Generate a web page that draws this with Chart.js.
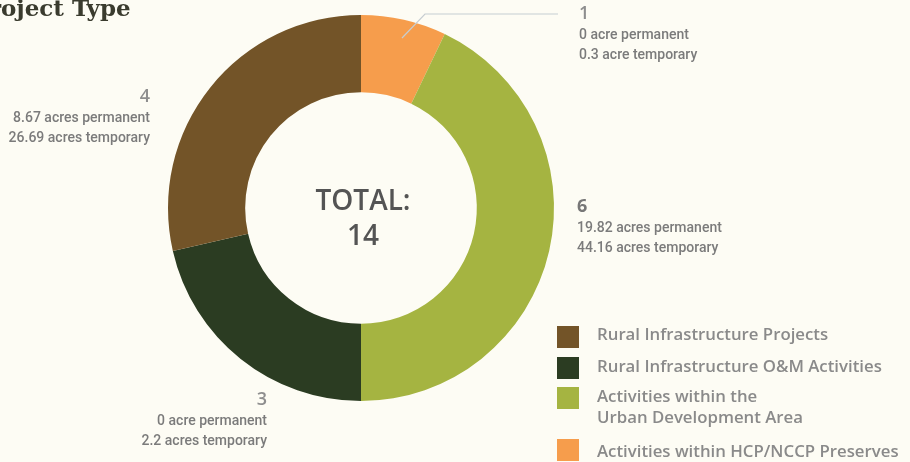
<!DOCTYPE html>
<html>
<head>
<meta charset="utf-8">
<script src="https://cdn.jsdelivr.net/npm/chart.js@4.4.1/dist/chart.umd.min.js"></script>
<style>
  html, body { margin: 0; padding: 0; background: #fdfcf4; overflow: hidden; }
  #wrap { position: relative; width: 910px; height: 462px; }
</style>
</head>
<body>
<div id="wrap"><canvas id="c" width="910" height="462"></canvas></div>
<script>
// Project counts by type, clockwise from 12 o'clock
const categories = [
  'Activities within HCP/NCCP Preserves',
  ['Activities within the', 'Urban Development Area'],
  'Rural Infrastructure O&M Activities',
  'Rural Infrastructure Projects'
];
const projectCounts = [1, 6, 3, 4];
const permanentAcres = [0, 19.82, 0, 8.67];
const temporaryAcres = [0.3, 44.16, 2.2, 26.69];
const sliceColors = ['#f69d4c', '#a5b441', '#2b3c22', '#735428'];

const total = projectCounts.reduce((a, b) => a + b, 0);

// Where each slice's callout text sits: anchor point and alignment
const calloutLayout = [
  { x: 579, y: 14, align: 'left' },
  { x: 577, y: 207, align: 'left', bold: true },
  { x: 267, y: 400, align: 'right' },
  { x: 150, y: 97, align: 'right' }
];

function acreText(v, kind) {
  return v + (v <= 1 ? ' acre ' : ' acres ') + kind;
}

const decorations = {
  id: 'decorations',
  afterDraw(chart) {
    const ctx = chart.ctx;
    ctx.save();

    // Heading, partly running off the left edge
    ctx.font = '600 23px "DejaVu Serif"';
    ctx.fillStyle = '#3a3b2e';
    ctx.textBaseline = 'alphabetic';
    ctx.textAlign = 'left';
    const off = ctx.measureText('Pr').width;
    ctx.fillText('Project Type', -off + 1, 16);

    // Centre total
    const meta = chart.getDatasetMeta(0);
    const arc0 = meta.data[0];
    const cx = arc0.x, cy = arc0.y;
    ctx.fillStyle = '#545454';
    ctx.textAlign = 'center';
    ctx.textBaseline = 'middle';
    ctx.font = '600 28px "Open Sans"';
    ctx.fillText('TOTAL:', cx + 2, cy - 6);
    ctx.fillText(String(total), cx + 2, cy + 29);

    // Leader line for the small orange slice
    ctx.strokeStyle = '#c6cdd1';
    ctx.lineWidth = 1.2;
    ctx.beginPath();
    ctx.moveTo(402, 38);
    ctx.lineTo(425, 14);
    ctx.lineTo(558, 14);
    ctx.stroke();

    // Callouts
    projectCounts.forEach((n, i) => {
      const L = calloutLayout[i];
      ctx.textAlign = L.align;
      ctx.textBaseline = 'middle';
      ctx.fillStyle = L.bold ? '#777777' : '#8e8e8e';
      ctx.font = (L.bold ? '700 ' : '600 ') + '18px "Open Sans"';
      ctx.fillText(String(n), L.x, L.y);
      ctx.fillStyle = '#7b7b7b';
      ctx.font = '500 14px "Roboto"';
      ctx.fillText(acreText(permanentAcres[i], 'permanent'), L.x, L.y + 21);
      ctx.fillText(acreText(temporaryAcres[i], 'temporary'), L.x, L.y + 41);
    });

    // Legend (reverse of slice order)
    const rows = [
      { sq: 326, lines: [335] },
      { sq: 357, lines: [367] },
      { sq: 387, lines: [397, 418] },
      { sq: 439, lines: [452] }
    ];
    ctx.textAlign = 'left';
    ctx.textBaseline = 'middle';
    ctx.font = '600 16.8px "Open Sans"';
    for (let r = 0; r < rows.length; r++) {
      const i = projectCounts.length - 1 - r;
      ctx.fillStyle = sliceColors[i];
      ctx.fillRect(557, rows[r].sq, 22, 22);
      ctx.fillStyle = '#8a8a8a';
      const txt = Array.isArray(categories[i]) ? categories[i] : [categories[i]];
      txt.forEach((t, k) => ctx.fillText(t, 597, rows[r].lines[k]));
    }
    ctx.restore();
  }
};

new Chart(document.getElementById('c'), {
  type: 'doughnut',
  data: {
    labels: categories.map(c => Array.isArray(c) ? c.join(' ') : c),
    datasets: [{
      data: projectCounts,
      backgroundColor: sliceColors,
      borderWidth: 0
    }]
  },
  options: {
    responsive: false,
    animation: false,
    cutout: '60%',
    layout: { padding: { top: 15, bottom: 61, left: 168, right: 356 } },
    plugins: { legend: { display: false }, tooltip: { enabled: false } }
  },
  plugins: [decorations]
});
</script>
</body>
</html>
